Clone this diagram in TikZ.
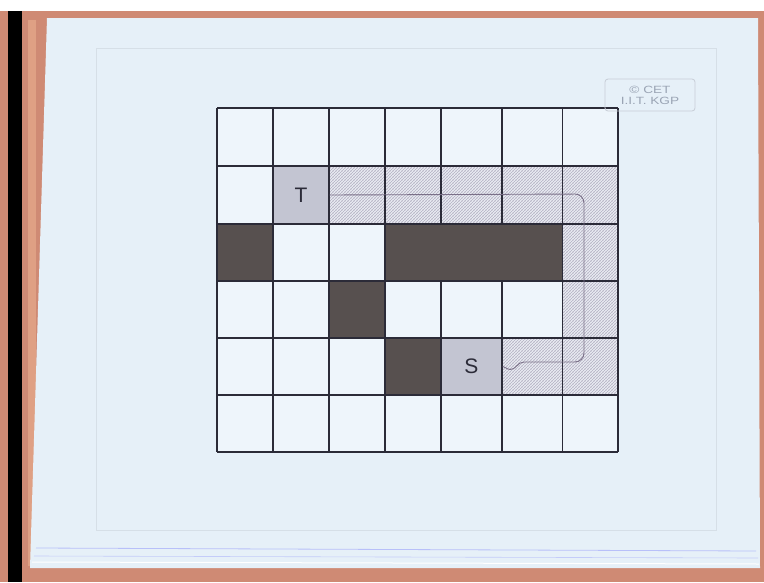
\documentclass[tikz,border=0pt]{standalone}
\usepackage{fontspec}
\setmainfont{Liberation Sans}
\usetikzlibrary{patterns}
\definecolor{wood}{HTML}{CF8A74}
\definecolor{woodlight}{HTML}{DFA084}
\definecolor{paper}{HTML}{E6F0F8}
\definecolor{cellbg}{HTML}{EEF5FB}
\definecolor{darkcell}{HTML}{57504F}
\definecolor{tscell}{HTML}{C3C5D2}
\definecolor{hatchbg}{HTML}{ECEEF6}
\definecolor{hatchln}{HTML}{B2B0C2}
\definecolor{gridln}{HTML}{2B2B38}
\definecolor{pathln}{HTML}{7A7088}
\definecolor{cetgrey}{HTML}{9AA4B4}
\tikzset{
  gridline/.style={draw=gridln, line width=1.4pt},
  blockcell/.style={fill=darkcell, draw=gridln, line width=1.4pt},
  hatchcell/.style={fill=hatchbg},
  hatchpat/.style={pattern=north east lines, pattern color=hatchln},
  hatchpatb/.style={pattern=north west lines, pattern color=hatchln!45},
  endcell/.style={fill=tscell, draw=gridln, line width=1.4pt, inner sep=0pt,
    font=\fontsize{21}{21}\selectfont, text=gridln},
  route/.style={draw=pathln, line width=0.9pt},
  cetbox/.style={draw=cetgrey!55, rounded corners=3pt, line width=0.8pt,
    minimum width=90pt, minimum height=32pt, inner sep=0pt, align=center,
    font=\fontsize{10.5}{11}\selectfont, text=cetgrey}
}
\begin{document}
\begin{tikzpicture}[x=1pt,y=-1pt]
\useasboundingbox (0,0) rectangle (764,582);
% photo surroundings
\fill[white] (0,0) rectangle (764,582);
\fill[wood] (0,11) rectangle (764,582);
\fill[black] (8,11) rectangle (22,582);
\fill[woodlight] (28,20) rectangle (36,566);
\fill[paper] (47,18) -- (758,18) -- (760,568) -- (30,568) -- cycle;
\draw[paper!93!black, line width=0.4pt] (96,48) rectangle (716,530);
\draw[paper!80!blue, line width=0.8pt] (36,548) -- (756,551);
\draw[paper!85!blue, line width=0.6pt] (34,556) -- (758,558);
\draw[white, line width=1pt] (32,562) -- (759,564);
% grid cells background
\fill[cellbg] (217,108) rectangle (618,452);
% hatched route cells
\foreach \r in {{(329,166) rectangle (618,224)},{(562.5,224) rectangle (618,338)},{(502,338) rectangle (618,395)}}{
  \fill[hatchcell] \r;
  \fill[hatchpatb] \r;
  \fill[hatchpat] \r;
}
% grid lines
\foreach \x in {217,273,329,385,441,502,562.5,618}
  \draw[gridline] (\x,108) -- (\x,452);
\foreach \y in {108,166,224,281,338,395,452}
  \draw[gridline] (217,\y) -- (618,\y);
% blocked cells
\draw[blockcell] (217,224) rectangle (273,281);
\draw[blockcell] (385,224) rectangle (562.5,281);
\draw[blockcell] (329,281) rectangle (385,338);
\draw[blockcell] (385,338) rectangle (441,395);
% target and source
\node[endcell, minimum width=56pt, minimum height=58pt] (T) at (301,195) {T};
\node[endcell, minimum width=61pt, minimum height=57pt] (S) at (471.5,366.5) {S};
% route from T to S
\draw[route, rounded corners=9pt] (T.east) -- (584,194) -- (584,362) -- (524,362);
\draw[route] (524,362)
  .. controls (517,362) and (516,370) .. (510,369.5)
  .. controls (506,369) and (505,366.5) .. (S.east);
% copyright box
\node[cetbox] (cet) at (650,95) {\scalebox{1.3}[1]{© CET}\\\scalebox{1.3}[1]{I.I.T. KGP}};
\end{tikzpicture}
\end{document}
